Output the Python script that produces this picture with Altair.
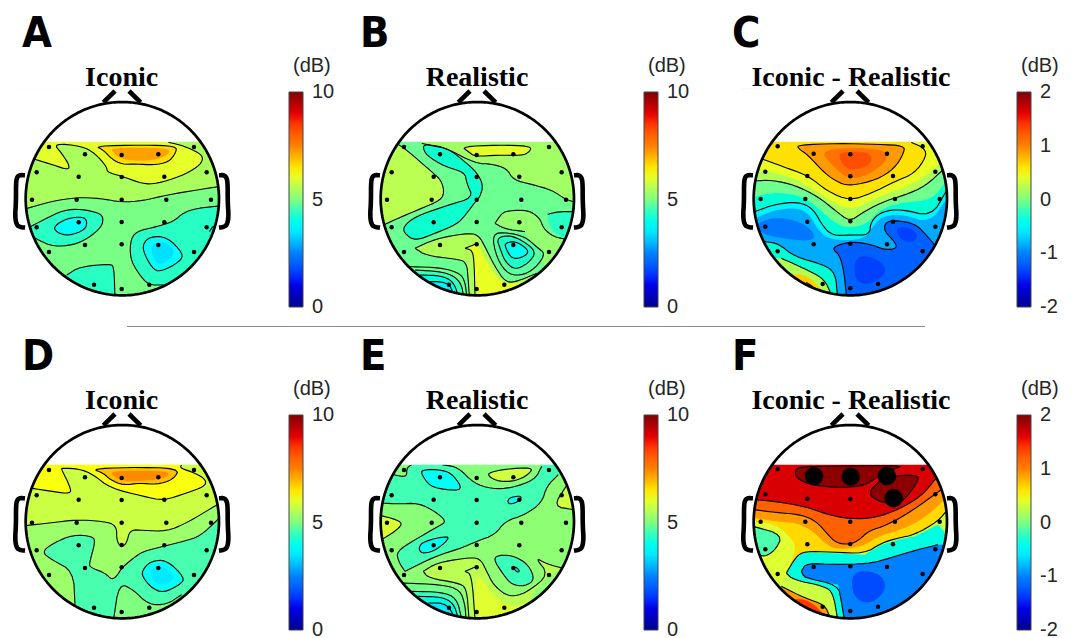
import numpy as np
import altair as alt

# Scalp-map regions. Coordinates are in a head frame
# (head centre about 337,341; radius about 290).
# Each entry: kind, value (dB), contour vertices, extra vertices closing the fill outside the head.
# R = filled contour with its line, F = shading only, L = contour line only.
FULL = [(10, 10), (670, 10), (670, 660), (10, 660)]

regions_a = [
    ("F", 5.45, FULL, []),
    ("R", 4.95, [(45,372),(120,350),(200,337),(270,340),(335,352),(400,347),(470,330),(560,315),(625,305)], [(665,305),(665,660),(15,660),(15,372)]),
    ("R", 6.0, [(75,223),(130,240),(175,255),(178,240),(155,205),(130,175),(215,183),(255,205),(290,245),(292,262),(330,272),(400,297),(440,296),(510,275),(565,245),(580,222),(570,205),(520,182),(475,172)], [(475,150),(20,150),(20,223)]),
    ("R", 6.6, [(255,183),(400,180),(500,183),(497,205),(475,232),(430,240),(380,237),(335,238),(305,222),(280,195)], []),
    ("F", 7.2, [(300,188),(470,188),(482,205),(430,228),(340,226),(312,205)], []),
    ("R", 4.4, [(625,363),(560,370),(520,383),(490,410),(440,425),(385,437),(362,460),(360,520),(385,565),(415,600),(460,600)], [(520,640),(665,640),(665,363)]),
    ("R", 4.4, [(55,428),(100,405),(160,375),(215,372),(270,385),(280,400),(275,425),(235,460),(190,480),(130,485),(85,465),(60,450)], [(20,450),(20,428)]),
    ("R", 3.8, [(130,425),(170,400),(220,395),(232,410),(225,435),(175,453),(140,442)], []),
    ("R", 3.8, [(400,475),(420,455),(470,455),(520,505),(510,530),(450,562),(425,548),(400,500)], []),
    ("F", 3.4, [(425,475),(470,470),(500,505),(450,545),(425,510)], []),
    ("R", 4.4, [(170,570),(210,545),(300,537),(312,545),(315,640)], [(315,660),(140,660),(140,570)]),
    ("R", 4.0, [(598,440),(610,422),(630,420)], [(640,450),(610,450)]),
]

regions_b = [
    ("F", 4.85, FULL, []),
    ("R", 5.6, [(95,175),(125,195),(200,260),(228,285),(238,320),(228,345),(170,370),(110,395),(55,420)], [(12,420),(12,175)]),
    ("R", 5.35, [(170,175),(215,185),(245,190),(330,235),(380,237),(425,250),(445,285),(500,298),(560,315),(600,342),(625,350)], [(668,350),(668,140),(170,140)]),
    ("R", 6.0, [(290,185),(400,180),(498,183),(495,200),(470,212),(400,210),(330,215),(310,200)], []),
    ("R", 4.3, [(172,183),(190,178),(248,190),(300,230),(335,262),(355,300),(345,335),(335,345),(300,392),(275,418),(210,445),(150,468),(118,445),(115,425),(150,395),(250,360),(325,338),(305,295),(300,262),(240,245),(185,212)], []),
    ("R", 5.5, [(150,490),(210,462),(300,445),(340,448),(365,495),(390,545),(420,590),(450,592),(515,565)], [(570,660),(313,660),(310,590),(305,530),(270,522),(185,512)]),
    ("L", 0, [(150,490),(185,512),(270,522),(305,530),(310,590),(313,632)], []),
    ("F", 6.05, [(300,490),(330,478),(345,490),(365,530),(390,570),(420,600),(490,590),(540,660),(330,660),(327,520),(320,495)], []),
    ("L", 0, [(300,490),(320,495),(327,520),(330,632)], []),
    ("L", 0, [(300,490),(335,476)], []),
    ("R", 5.2, [(390,415),(410,385),(430,377),(490,375),(525,400),(535,430),(565,455),(598,462)], [(665,462),(665,560),(560,560),(520,520),(480,440),(420,432)]),
    ("L", 0, [(390,415),(420,432),(480,440)], []),
    ("R", 4.4, [(548,388),(580,380),(625,380)], [(665,380),(665,470),(600,462),(565,440),(550,410)]),
    ("R", 4.7, [(380,445),(430,443),(480,455),(520,490),(540,505),(520,540),(480,570),(430,570),(395,520)], []),
    ("R", 4.35, [(395,460),(430,450),(470,465),(515,500),(490,535),(450,555),(420,530),(405,490)], []),
    ("R", 3.9, [(418,475),(450,468),(485,490),(490,505),(465,520),(440,520),(425,495)], []),
    ("R", 4.9, [(135,545),(230,548),(285,565),(300,590),(305,632)], [(305,660),(100,660),(100,545)]),
    ("R", 4.5, [(150,555),(230,560),(270,575),(290,600),(295,632)], [(295,660),(100,660),(100,555)]),
    ("R", 4.1, [(165,570),(230,572),(265,590),(280,632)], [(280,660),(100,660),(100,570)]),
    ("R", 3.6, [(190,590),(230,590),(255,600),(265,628)], [(265,660),(120,660),(120,590)]),
]

regions_c = [
    ("F", -0.85, FULL, []),
    ("F", -0.55, [(50,400),(110,375),(175,368),(212,385),(240,435),(275,465),(380,465),(410,415),(440,392),(495,388),(575,415),(628,340)], [(668,340),(668,300),(12,300),(12,400)]),
    ("F", -0.3, [(50,380),(110,358),(180,350),(225,370),(255,425),(285,452),(340,450),(395,450),(398,410),(430,380),(490,372),(580,395),(625,318)], [(668,318),(668,140),(12,140),(12,380)]),
    ("L", 0, [(50,380),(110,358),(180,350),(225,370),(255,425),(285,452),(340,450),(395,450),(398,410),(430,380),(490,372),(580,395),(625,318)], []),
    ("F", -0.05, [(50,335),(110,322),(180,330),(225,355),(290,415),(335,430),(390,415),(430,370),(500,352),(580,345),(625,290)], [(668,290),(668,140),(12,140),(12,335)]),
    ("R", 0.2, [(50,288),(100,285),(170,300),(240,335),(290,375),(335,410),(370,385),(430,352),(500,330),(560,305),(620,250)], [(668,250),(668,140),(12,140),(12,288)]),
    ("F", 0.42, [(60,255),(120,265),(190,290),(250,330),(335,380),(410,340),(480,315),(540,290),(600,240)], [(668,240),(668,140),(12,140),(12,255)]),
    ("R", 0.62, [(75,223),(130,243),(210,272),(270,320),(335,347),(400,325),(470,290),(530,265),(565,215),(560,190),(520,172)], [(520,140),(20,140),(20,223)]),
    ("R", 0.9, [(180,180),(300,175),(420,178),(500,182),(497,205),(470,250),(415,285),(340,302),(305,295),(260,265),(210,210),(180,190)], []),
    ("F", 1.1, [(240,190),(440,190),(450,225),(400,265),(340,285),(290,250)], []),
    ("F", 1.3, [(300,200),(400,200),(400,240),(340,258),(310,235)], []),
    ("F", -1.05, [(60,410),(130,395),(210,420),(240,470),(120,460),(60,440)], []),
    ("R", -1.2, [(325,632),(318,560),(305,510),(283,492),(300,480),(340,470),(400,478),(440,495),(478,490),(470,470),(440,440),(440,415),(465,405),(530,415),(565,450),(590,480)], [(665,480),(665,660),(325,660)]),
    ("F", -1.35, [(350,510),(420,520),(450,560),(400,600),(350,590)], []),
    ("F", -1.35, [(470,425),(530,430),(540,470),(490,470)], []),
    ("R", -0.3, [(80,470),(120,475),(170,515),(260,540),(292,565),(298,630)], [(298,660),(30,660),(30,470)]),
    ("R", 0.2, [(130,520),(220,560),(260,585),(278,625)], [(278,660),(60,660),(60,520)]),
    ("F", 0.7, [(190,565),(225,585),(258,625),(220,640),(150,570)], []),
    ("L", 0, [(205,592),(225,605)], []),
]

regions_d = [
    ("F", 5.3, FULL, []),
    ("R", 5.75, [(45,353),(120,345),(200,335),(280,340),(320,352),(320,400),(335,418),(350,405),(360,365),(400,367),(470,370),(530,345),(625,288)], [(668,288),(668,140),(12,140),(12,353)]),
    ("R", 6.2, [(60,240),(125,250),(183,258),(180,235),(155,185),(155,180),(210,183),(250,200),(300,240),(400,265),(460,278),(530,255),(585,235),(588,215),(555,195),(510,180),(515,170)], [(515,140),(20,140),(20,240)]),
    ("R", 6.9, [(245,183),(350,178),(510,180),(490,215),(440,230),(390,225),(340,232),(300,215),(280,195)], []),
    ("F", 7.4, [(300,188),(480,188),(470,210),(410,218),(340,220),(310,205)], []),
    ("R", 4.6, [(625,333),(570,385),(520,400),(460,415),(400,430),(370,450),(335,480),(320,505),(305,515),(285,495),(240,478),(238,465),(255,405),(250,385),(190,380),(130,405),(95,432),(125,455),(190,490),(195,590)], [(195,660),(665,660),(665,333)]),
    ("R", 5.0, [(310,640),(327,525),(370,545),(415,590),(470,590),(515,560)], [(560,660),(310,660)]),
    ("R", 3.9, [(395,490),(420,460),(470,455),(525,510),(510,530),(460,555),(425,540),(400,510)], []),
    ("F", 3.5, [(420,480),(465,475),(500,510),(455,535),(425,515)], []),
]

regions_e = [
    ("F", 4.55, FULL, []),
    ("R", 5.15, [(120,490),(210,445),(290,420),(335,400),(390,380),(420,340),(480,320),(530,285),(545,235),(580,200)], [(665,200),(665,660),(60,660),(60,490)]),
    ("R", 5.1, [(50,285),(100,288),(160,285),(210,310),(245,340),(220,355),(150,395),(95,430),(100,460),(120,490)], [(12,490),(12,285)]),
    ("R", 5.05, [(85,200),(125,208),(125,180),(140,170)], [(140,140),(40,140),(40,200)]),
    ("R", 5.05, [(232,170),(280,178),(325,225),(380,243),(440,240),(510,215),(530,175)], [(530,140),(232,140)]),
    ("R", 5.8, [(368,195),(420,183),(505,178),(490,200),(450,220),(400,220),(375,208)], []),
    ("R", 3.9, [(170,185),(230,185),(265,200),(295,247),(240,245),(195,235),(170,200)], []),
    ("R", 3.9, [(427,280),(435,268),(470,263),(465,278),(435,290)], []),
    ("R", 5.8, [(603,235),(565,295),(625,305)], [(665,305),(665,235)]),
    ("R", 5.9, [(45,322),(95,335),(113,348),(90,370),(50,395)], [(12,395),(12,322)]),
    ("R", 3.9, [(160,420),(175,400),(255,382),(240,405),(205,430),(170,437)], []),
    ("R", 5.6, [(175,490),(215,465),(300,450),(345,450),(365,490),(385,530),(420,560),(450,565),(490,550),(552,500),(510,448),(545,468),(600,482)], [(665,482),(665,660),(312,660),(305,540),(280,525),(190,510)]),
    ("L", 0, [(175,490),(190,510),(280,525),(305,540),(312,632)], []),
    ("F", 5.15, [(552,500),(600,482),(665,482),(665,660),(520,660),(490,565)], []),
    ("F", 5.95, [(330,500),(350,510),(390,570),(450,600),(500,580),(540,660),(330,660)], []),
    ("L", 0, [(300,490),(320,500),(330,632)], []),
    ("L", 0, [(300,490),(335,475)], []),
    ("R", 4.5, [(383,450),(410,440),(450,445),(490,470),(510,515),(480,535),(440,530),(415,500)], []),
    ("R", 3.6, [(445,478),(455,478),(465,490),(455,493)], []),
    ("R", 4.9, [(112,525),(230,530),(285,545),(300,590),(303,632)], [(303,660),(70,660),(70,525)]),
    ("R", 4.5, [(140,550),(230,552),(275,570),(290,632)], [(290,660),(90,660),(90,550)]),
    ("R", 4.1, [(160,565),(230,567),(265,585),(280,630)], [(280,660),(100,660),(100,565)]),
    ("R", 3.5, [(190,585),(235,585),(258,605),(267,630)], [(267,660),(120,660),(120,585)]),
]

regions_f = [
    ("F", 0.3, FULL, []),
    ("R", 0.65, [(145,495),(175,445),(200,430),(280,432),(380,437),(430,405),(480,390),(530,380),(600,340),(628,305)], [(668,305),(668,140),(12,140),(12,495)]),
    ("F", 0.38, [(10,340),(110,345),(170,400),(170,440),(145,495),(120,540),(10,540)], []),
    ("R", -0.15, [(45,355),(135,380),(110,430),(70,450),(50,415)], [(12,415),(12,355)]),
    ("F", 0.9, [(48,330),(110,340),(180,345),(225,370),(265,410),(300,425),(375,415),(420,385),(490,365),(560,330),(625,270)], [(668,270),(668,140),(12,140),(12,330)]),
    ("R", 1.2, [(48,305),(110,313),(190,320),(235,340),(270,380),(295,405),(335,410),(365,395),(390,370),(450,350),(520,310),(610,245)], [(668,245),(668,140),(12,140),(12,305)]),
    ("R", 1.65, [(50,275),(110,280),(200,295),(270,320),(335,333),(410,330),(480,305),(550,265),(595,210)], [(668,210),(668,140),(12,140),(12,275)]),
    ("R", 1.95, [(170,183),(200,175),(490,172),(480,180),(440,190),(420,205),(385,230),(340,238),(270,237),(210,228),(175,210)], []),
    ("R", 1.95, [(440,205),(540,200),(540,220),(500,275),(470,290),(420,280),(390,255),(420,225)], []),
    ("R", -0.35, [(145,495),(165,515),(260,535),(285,555),(298,628)], [(298,660),(665,660),(665,420),(600,350),(530,385),(480,395),(430,410),(380,440),(280,435),(200,433),(175,448)]),
    ("R", -1.0, [(190,490),(205,465),(290,470),(390,467),(440,455),(520,430),(600,410)], [(665,410),(665,660),(318,660),(318,628),(310,580),(300,530),(200,510)]),
    ("L", 0, [(190,490),(200,510),(300,530),(310,580),(318,628)], []),
    ("F", -1.3, [(340,490),(420,490),(450,540),(400,590),(345,570)], []),
    ("R", 0.9, [(130,535),(200,570),(260,590),(275,625)], [(275,660),(80,660),(80,530)]),
    ("F", 1.4, [(185,570),(225,585),(262,625),(230,640),(160,580)], []),
]

electrodes_x = [117,552,225,335,445,80,206,335,463,590,66,200,335,469,603,206,335,463,80,590,225,335,445,117,552,252,335,418]
electrodes_y = [186,186,208,210,208,262,275,276,275,262,344,344,344,344,344,412,411,412,427,427,480,478,480,501,501,599,612,599]
electrode_shift = [(0,0),(0,0),(2,-2),(0,0),(0,0),(2,-3)]
significant_x = [228,338,447,467]
significant_y = [205,206,204,271]

nose_left = [(280,52),(315,18)]
nose_right = [(392,52),(357,18)]
ear_left = [(45,271),(30,270),(22,275),(18,290),(18,350),(15,395),(20,420),(30,426),(45,428)]
ear_right = [(627,271),(640,270),(648,275),(653,290),(653,350),(656,395),(651,420),(640,426),(627,428)]

letters = ["A","B","C","D","E","F"]
letter_x = [36,-15,-18,36,-15,-18]
titles = ["Iconic","Realistic","Iconic - Realistic","Iconic","Realistic","Iconic - Realistic"]
title_x = [335,336,339,335,336,339]
crop_x = [2,12,12,2,12,12]
crop_y = [77,77,77,81,81,81]
panel_width = [345,373,339,345,373,339]
panel_height = [318,318,318,303,303,303]
legend_x = [281,291,291,281,291,291]
legend_y = [84,84,84,88,88,88]
domains = [(0,10),(0,10),(-2,2),(0,10),(0,10),(-2,2)]
ticks = [[0,5,10],[0,5,10],[-2,-1,0,1,2],[0,5,10],[0,5,10],[-2,-1,0,1,2]]
all_regions = [regions_a,regions_b,regions_c,regions_d,regions_e,regions_f]
jet = ["#00008f","#0000ff","#0080ff","#00ffff","#80ff80","#ffff00","#ff8000","#ff0000","#800000"]
divider_x = [119]
divider_x2 = [917]
head_cx, head_cy, head_r = 337, 341, 290


def feat(geom_type, coords, **props):
    return {"type": "Feature", "geometry": {"type": geom_type, "coordinates": coords}, "properties": props}


def as_list(pts):
    return [[float(a), float(b)] for a, b in pts]


def rounded(pts, closed, passes=2):
    """Round the corners of a drawn contour (the path's curve style only)."""
    p = as_list(pts)
    for _ in range(passes):
        q = [] if closed else [p[0]]
        n = len(p)
        for j in range(n if closed else n - 1):
            a, b = p[j], p[(j + 1) % n]
            q.append([0.75 * a[0] + 0.25 * b[0], 0.75 * a[1] + 0.25 * b[1]])
            q.append([0.25 * a[0] + 0.75 * b[0], 0.25 * a[1] + 0.75 * b[1]])
        if not closed:
            q.append(p[-1])
        p = q
    return p


theta = np.linspace(0, 2 * np.pi, 241)
circle = [[float(head_cx + head_r * np.cos(t)), float(head_cy + head_r * np.sin(t))] for t in theta]
outer = [[0, 10], [675, 10], [675, 665], [0, 665], [0, 10]]
mask_features = [
    feat("Polygon", [outer, circle[::-1]]),
    feat("Polygon", [[[0, 10], [675, 10], [675, 170], [0, 170], [0, 10]]]),
]
outline_features = [feat("LineString", circle)]
thick_features = [feat("LineString", as_list(p)) for p in (nose_left, nose_right)]
thick_features += [feat("LineString", rounded(p, False)) for p in (ear_left, ear_right)]


def panel(i):
    # precision differs per panel only so that Vega-Lite keeps one projection per panel
    proj = dict(type="identity", scale=1 / 3, translate=[crop_x[i], crop_y[i]], precision=0.7 + 0.001 * i)
    fills, lines = [], []
    for kind, v, pts, ext in all_regions[i]:
        closed = not ext
        p = as_list(pts) if pts is FULL else rounded(pts, closed and kind != "L")
        if kind in ("R", "F"):
            ring = p + as_list(ext)
            ring = ring + [ring[0]]
            fills.append(feat("Polygon", [ring], v=v))
        if kind in ("R", "L"):
            line = p + [p[0]] if (kind == "R" and closed) else p
            lines.append(feat("LineString", line))
    lo, hi = domains[i]
    eps = 0.001  # keeps the end labels of the colour bar centred on their values
    stops = [float(s) for s in np.linspace(lo - eps, hi + eps, len(jet))]
    fill_layer = alt.Chart(alt.Data(values=fills)).mark_geoshape(strokeWidth=0).encode(
        color=alt.Color("properties.v:Q",
                        scale=alt.Scale(domain=stops, range=jet),
                        legend=alt.Legend(type="gradient", orient="none", title=None,
                                          legendX=legend_x[i], legendY=legend_y[i],
                                          values=ticks[i], gradientLength=215, gradientThickness=14,
                                          gradientStrokeColor="#444444", gradientStrokeWidth=1,
                                          labelFont="Liberation Sans", labelFontSize=20,
                                          labelColor="#262626", labelOffset=9, labelBaseline="middle",
                                          labelOverlap=False, labelExpr="datum.value + ''"))
    ).project(**proj)
    line_layer = alt.Chart(alt.Data(values=lines)).mark_geoshape(
        filled=False, stroke="black", strokeWidth=1.1, strokeJoin="round").project(**proj)
    mask_layer = alt.Chart(alt.Data(values=mask_features)).mark_geoshape(
        fill="white", strokeWidth=0).project(**proj)
    head_layer = alt.Chart(alt.Data(values=outline_features)).mark_geoshape(
        filled=False, stroke="black", strokeWidth=2.7).project(**proj)
    thick_layer = alt.Chart(alt.Data(values=thick_features)).mark_geoshape(
        filled=False, stroke="black", strokeWidth=4.6, strokeJoin="round").project(**proj)
    dx, dy = electrode_shift[i]
    elec = [{"lon": x + dx, "lat": y + dy} for x, y in zip(electrodes_x, electrodes_y)]
    elec_layer = alt.Chart(alt.Data(values=elec)).mark_circle(size=20, color="black", opacity=1).encode(
        longitude="lon:Q", latitude="lat:Q").project(**proj)
    layers = [fill_layer, line_layer, mask_layer, elec_layer]
    if i == 5:
        big = [{"lon": x, "lat": y} for x, y in zip(significant_x, significant_y)]
        layers.append(alt.Chart(alt.Data(values=big)).mark_circle(size=340, color="black", opacity=1).encode(
            longitude="lon:Q", latitude="lat:Q").project(**proj))
    layers += [head_layer, thick_layer]
    txt = [
        ({"t": letters[i], "lon": letter_x[i], "lat": -114},
         dict(font="Liberation Sans Narrow, DejaVu Sans Condensed, Roboto, sans-serif", fontSize=43, fontWeight="bold", align="left")),
        ({"t": titles[i], "lon": title_x[i], "lat": 3},
         dict(font="Liberation Serif", fontSize=28, fontWeight="bold", align="center")),
        ({"t": "(dB)", "lon": 849, "lat": -39},
         dict(font="Liberation Sans", fontSize=20, align="left", color="#262626")),
    ]
    for row, style in txt:
        layers.append(alt.Chart(alt.Data(values=[row])).mark_text(baseline="alphabetic", **style).encode(
            longitude="lon:Q", latitude="lat:Q", text="t:N").project(**proj))
    return alt.layer(*layers).properties(width=panel_width[i], height=panel_height[i])


row1 = alt.hconcat(panel(0), panel(1), panel(2), spacing=0).resolve_scale(color="independent")
row2 = alt.hconcat(panel(3), panel(4), panel(5), spacing=0).resolve_scale(color="independent")
divider = alt.Chart(alt.Data(values=[{"x": a, "x2": b} for a, b in zip(divider_x, divider_x2)])).mark_rule(
    color="#8c8c8c", strokeWidth=1).encode(
    x=alt.X("x:Q", scale=alt.Scale(domain=[0, 1057]), axis=None), x2="x2:Q").properties(width=1057, height=1)

chart = (alt.vconcat(row1, divider, row2, spacing=0)
         .resolve_scale(color="independent")
         .properties(padding=0)
         .configure_view(stroke=None))
chart.save("out.html", embed_options={"renderer": "svg", "actions": False})
